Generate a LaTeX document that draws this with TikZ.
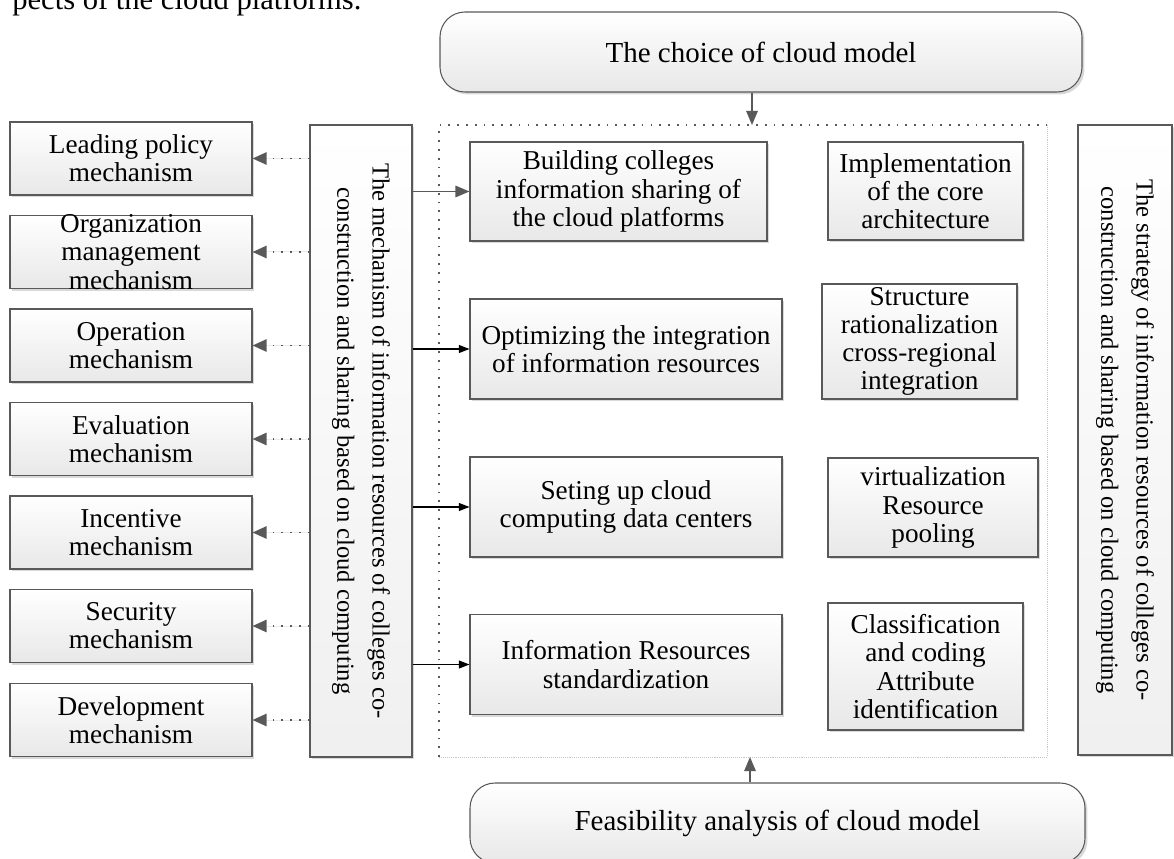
\documentclass[tikz,border=0pt]{standalone}
\usepackage{fontspec}
\setmainfont{Liberation Serif}
\usetikzlibrary{arrows.meta, positioning, shadows}

\begin{document}
\begin{tikzpicture}[x=0.2mm, y=-0.2mm,
  box/.style={rectangle, draw=gray!70!black, line width=0.6pt, top color=white, bottom color=gray!18,
    drop shadow={shadow xshift=1.4pt, shadow yshift=-1.4pt, fill=gray!30, opacity=1},
    align=center, inner sep=1pt, font=\fontsize{15.5}{16}\selectfont},
  sidebox/.style={box, minimum width=48.4mm, minimum height=14.6mm},
  midbox/.style={box, minimum width=62.4mm, minimum height=20mm},
  tallbox/.style={box, top color=white, bottom color=gray!12},
  roundbox/.style={box, rounded corners=5mm, font=\fontsize{16.5}{18}\selectfont},
  vtext/.style={rotate=-90, align=center, inner sep=0pt, font=\fontsize{14}{20}\selectfont},
  dotarrow/.style={-{Triangle[length=8pt,width=7pt]}, draw=gray!70!black, fill=gray!70!black, line width=1pt, dash pattern=on 1pt off 4pt},
  thickarrow/.style={-{Triangle[length=8pt,width=6.5pt]}, draw=gray!70!black, fill=gray!70!black, line width=1pt},
  thinarrow/.style={-{Triangle[length=6pt,width=4.5pt]}, black, line width=0.6pt}
]
  \useasboundingbox (0,0) rectangle (1174,859);

  % text of the page above the figure (cut off)
  \node[anchor=base west, inner sep=0pt, font=\fontsize{17.4}{20}\selectfont] (prevtext) at (12,10) {pects of the cloud platforms.};

  % dotted frame round the middle part
  \coordinate (fnw) at (439,125);
  \coordinate (fse) at (1047,757);
  \coordinate (ftop) at (752,125);
  \coordinate (fbot) at (750,757);
  \draw[gray!70!black, line width=1pt, dash pattern=on 1pt off 4pt] (fnw |- fse) -- (fnw) -- (fse |- fnw);
  \draw[gray!45, line width=0.5pt, dash pattern=on 0.5pt off 0.6pt] (fse |- fnw) -- (fse) -- (fnw |- fse);

  % top and bottom
  \node[roundbox, minimum width=128.4mm, minimum height=16mm] (choice) at (761,52) {The choice of cloud model};
  \node[roundbox, minimum width=123mm, minimum height=16mm] (feasible) at (777.5,823) {Feasibility analysis of cloud model};

  % mechanisms (left)
  \node[sidebox] (lead) at (131,158.5) {Leading policy\\mechanism};
  \node[sidebox] (orgm) at (131,252) {};
  \node[align=center, inner sep=0pt, font=\fontsize{15.5}{16}\selectfont] (orgmtext) at (orgm.center) {Organization\\management\\mechanism};
  \node[sidebox] (oper) at (131,345.5) {Operation\\mechanism};
  \node[sidebox] (eval) at (131,439) {Evaluation\\mechanism};
  \node[sidebox] (incent) at (131,532.5) {Incentive\\mechanism};
  \node[sidebox] (secur) at (131,626) {Security\\mechanism};
  \node[sidebox] (devel) at (131,720) {Development\\mechanism};

  % the two tall boxes
  \node[tallbox, minimum width=20.4mm, minimum height=126.4mm] (mech) at (361,441) {};
  \node[vtext] (mechtext) at (mech.center) {The mechanism of information resources of colleges co-\\construction and sharing based on cloud computing};
  \node[tallbox, minimum width=18.8mm, minimum height=126mm] (strat) at (1125,440) {};
  \node[vtext] (strattext) at (strat.center) {The strategy of information resources of colleges co-\\construction and sharing based on cloud computing};

  % middle column
  \node[box, minimum width=59.4mm, minimum height=19.8mm] (build) at (618.5,191.5) {Building colleges\\information sharing of\\the cloud platforms};
  \node[midbox] (optim) at (626,349) {Optimizing the integration\\of information resources};
  \node[midbox] (center) at (626,507) {Seting up cloud\\computing data centers};
  \node[midbox] (standard) at (626,664.5) {Information Resources\\standardization};

  % right column
  \node[box, minimum width=39mm, minimum height=19.6mm] (core) at (925.5,191) {Implementation\\of the core\\architecture};
  \node[box, minimum width=39mm, minimum height=23mm] (struct) at (919.5,341.5) {Structure\\rationalization\\cross-regional\\integration};
  \node[box, minimum width=42mm, minimum height=19.8mm] (virt) at (933,507.5) {virtualization\\Resource\\pooling};
  \node[box, minimum width=39mm, minimum height=25.4mm] (classif) at (925.5,666.5) {Classification\\and coding\\Attribute\\identification};

  % arrows
  \draw[thickarrow] (choice.south -| ftop) -- (ftop);
  \draw[thickarrow] (feasible.north -| fbot) -- (fbot);

  \draw[dotarrow] (mech.west |- lead.east) -- (lead.east);
  \draw[dotarrow] (mech.west |- orgm.east) -- (orgm.east);
  \draw[dotarrow] (mech.west |- oper.east) -- (oper.east);
  \draw[dotarrow] (mech.west |- eval.east) -- (eval.east);
  \draw[dotarrow] (mech.west |- incent.east) -- (incent.east);
  \draw[dotarrow] (mech.west |- secur.east) -- (secur.east);
  \draw[dotarrow] (mech.west |- devel.east) -- (devel.east);

  \draw[thickarrow] (mech.east |- build.west) -- (build.west);
  \draw[thinarrow] (mech.east |- optim.west) -- (optim.west);
  \draw[thinarrow] (mech.east |- center.west) -- (center.west);
  \draw[thinarrow] (mech.east |- standard.west) -- (standard.west);
\end{tikzpicture}
\end{document}
